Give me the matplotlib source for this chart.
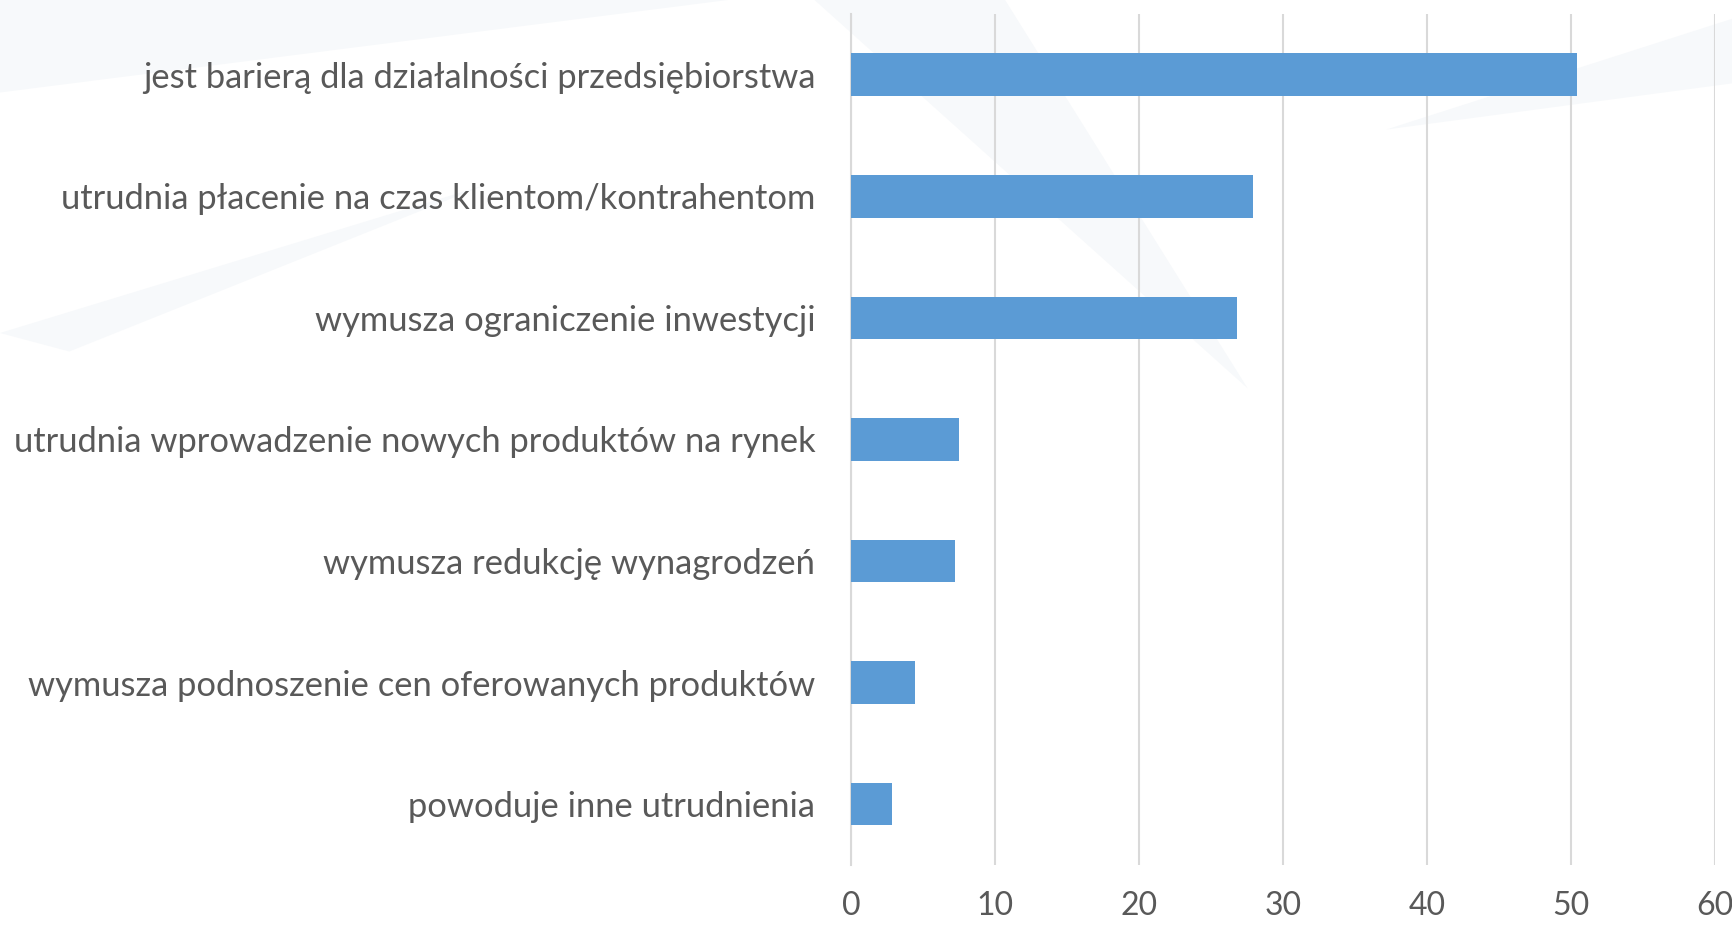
import matplotlib
matplotlib.use("Agg")
import matplotlib.pyplot as plt
from matplotlib.patches import Polygon

# data (percent of answers)
labels = [
    "jest barierą dla działalności przedsiębiorstwa",
    "utrudnia płacenie na czas klientom/kontrahentom",
    "wymusza ograniczenie inwestycji",
    "utrudnia wprowadzenie nowych produktów na rynek",
    "wymusza redukcję wynagrodzeń",
    "wymusza podnoszenie cen oferowanych produktów",
    "powoduje inne utrudnienia",
]
values = [50.4, 27.9, 26.8, 7.5, 7.2, 4.4, 2.8]
xticks = [0, 10, 20, 30, 40, 50, 60]

text_col = "#595959"
grid_col = "#d9d9d9"
bar_col = "#5b9bd5"

fig = plt.figure(figsize=(17.33, 9.25), dpi=100)
fig.patch.set_facecolor("white")

# very faint watermark shapes, behind everything
bg = fig.add_axes([0, 0, 1, 1], zorder=-5)
bg.set_xlim(0, 1)
bg.set_ylim(0, 1)
bg.axis("off")
for pts in [
    [(0.0, 0.90), (0.42, 1.0), (0.0, 1.0)],
    [(0.0, 0.64), (0.28, 0.80), (0.04, 0.62)],
    [(0.47, 1.0), (0.72, 0.58), (0.58, 1.0)],
    [(0.80, 0.86), (1.0, 0.98), (1.0, 0.91)],
]:
    bg.add_patch(Polygon(pts, closed=True, facecolor="#f7f9fb", edgecolor="none"))

ax = fig.add_axes([0.4913, 0.0649, 0.4981, 0.920])
ax.patch.set_alpha(0)

y = list(range(len(labels)))
ax.barh(y, values, height=0.35, color=bar_col, zorder=3)

ax.set_ylim(len(labels) - 0.5, -0.5)
ax.set_xlim(0, 60)
ax.set_xticks(xticks)
ax.set_xticklabels([str(t) for t in xticks])
ax.set_yticks(y)
ax.set_yticklabels(labels)

ax.xaxis.grid(True, color=grid_col, linewidth=1.5, zorder=0)
ax.set_axisbelow(True)
for s in ["top", "right", "bottom"]:
    ax.spines[s].set_visible(False)
ax.spines["left"].set_color(grid_col)
ax.spines["left"].set_linewidth(1.5)

ax.tick_params(axis="both", length=0, colors=text_col)
ax.tick_params(axis="y", pad=26)
ax.tick_params(axis="x", pad=19)
for t in ax.get_yticklabels():
    t.set_fontfamily("Lato")
    t.set_fontsize(24.8)
for t in ax.get_xticklabels():
    t.set_fontfamily("Lato")
    t.set_fontsize(23)

fig.savefig("out.png", dpi=100)
